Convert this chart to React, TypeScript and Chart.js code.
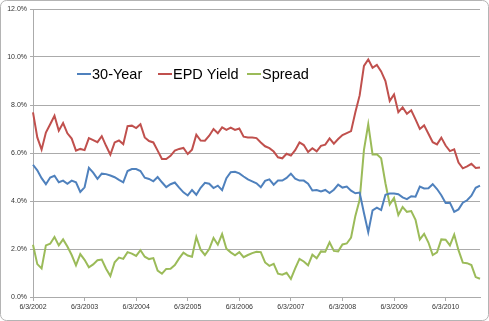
import React, { useEffect, useRef } from 'react';
import { Chart, registerables } from 'chart.js';
Chart.register(...registerables);

// Monthly observations, 6/3/2002 .. 2/3/2011
const startYear = 2002;
const startMonth = 6;
const pointCount = 105;
const categories: string[] = [];
for (let i = 0; i < pointCount; i++) {
  const m = ((startMonth - 1 + i) % 12) + 1;
  const y = startYear + Math.floor((startMonth - 1 + i) / 12);
  categories.push(`${m}/3/${y}`);
}

const tickLabels = ['6/3/2002', '6/3/2003', '6/3/2004', '6/3/2005', '6/3/2006', '6/3/2007', '6/3/2008', '6/3/2009', '6/3/2010'];

const thirtyYear = [
  5.51, 5.28, 4.95, 4.70, 4.98, 5.05, 4.78, 4.85, 4.72, 4.85, 4.78, 4.38, 4.57, 5.38, 5.18, 4.92,
  5.14, 5.12, 5.06, 4.99, 4.88, 4.78, 5.25, 5.33, 5.33, 5.25, 4.97, 4.92, 4.82, 5.00, 4.78, 4.58,
  4.70, 4.77, 4.56, 4.36, 4.23, 4.46, 4.26, 4.55, 4.76, 4.72, 4.54, 4.64, 4.45, 4.95, 5.20, 5.22,
  5.15, 5.02, 4.90, 4.82, 4.74, 4.57, 4.84, 4.90, 4.68, 4.85, 4.85, 4.96, 5.14, 4.93, 4.85, 4.85,
  4.72, 4.44, 4.46, 4.40, 4.46, 4.33, 4.47, 4.68, 4.56, 4.60, 4.43, 4.32, 4.35, 3.50, 2.70, 3.61,
  3.72, 3.62, 4.26, 4.31, 4.31, 4.28, 4.15, 4.08, 4.20, 4.18, 4.60, 4.52, 4.53, 4.70, 4.50, 4.24,
  3.92, 3.93, 3.55, 3.65, 3.93, 4.03, 4.22, 4.55, 4.64,
];

const epdYield = [
  7.69, 6.65, 6.14, 6.85, 7.20, 7.55, 6.93, 7.25, 6.82, 6.60, 6.10, 6.17, 6.12, 6.62, 6.54, 6.45,
  6.70, 6.30, 5.93, 6.44, 6.52, 6.37, 7.12, 7.14, 7.04, 7.20, 6.65, 6.50, 6.44, 6.10, 5.75, 5.75,
  5.88, 6.10, 6.17, 6.21, 5.96, 6.14, 6.76, 6.52, 6.51, 6.72, 7.00, 6.82, 7.07, 6.96, 7.06, 6.96,
  7.02, 6.68, 6.65, 6.65, 6.62, 6.44, 6.28, 6.20, 6.06, 5.82, 5.78, 5.97, 5.89, 6.12, 6.44, 6.33,
  6.04, 6.20, 6.07, 6.30, 6.35, 6.61, 6.39, 6.58, 6.75, 6.83, 6.91, 7.70, 8.40, 9.63, 9.90, 9.55,
  9.67, 9.40, 9.00, 8.17, 8.44, 7.70, 7.90, 7.63, 7.78, 7.40, 7.00, 7.15, 6.80, 6.45, 6.36, 6.64,
  6.31, 6.08, 6.15, 5.60, 5.36, 5.44, 5.55, 5.38, 5.40,
];

const spread = [
  2.18, 1.37, 1.19, 2.15, 2.22, 2.50, 2.15, 2.40, 2.10, 1.75, 1.32, 1.79, 1.55, 1.24, 1.36, 1.53,
  1.56, 1.18, 0.87, 1.45, 1.64, 1.59, 1.87, 1.81, 1.71, 1.95, 1.68, 1.58, 1.62, 1.10, 0.97, 1.17,
  1.18, 1.33, 1.61, 1.85, 1.73, 1.68, 2.50, 1.97, 1.75, 2.00, 2.46, 2.18, 2.62, 2.01, 1.86, 1.74,
  1.87, 1.66, 1.75, 1.83, 1.88, 1.87, 1.44, 1.30, 1.38, 0.97, 0.93, 1.01, 0.75, 1.19, 1.59, 1.48,
  1.32, 1.76, 1.61, 1.90, 1.89, 2.28, 1.92, 1.90, 2.19, 2.23, 2.48, 3.38, 4.05, 6.13, 7.20, 5.94,
  5.95, 5.78, 4.74, 3.86, 4.13, 3.42, 3.75, 3.55, 3.58, 3.22, 2.40, 2.63, 2.27, 1.75, 1.86, 2.40,
  2.39, 2.15, 2.60, 1.95, 1.43, 1.41, 1.33, 0.83, 0.76,
];

const seriesNames = ['30-Year', 'EPD Yield', 'Spread'];
const seriesColors = ['#4F81BD', '#C0504D', '#9BBB59'];

const W = 489;
const H = 321;
const GRID = '#ababab';

export default function App() {
  const ref = useRef<HTMLCanvasElement | null>(null);

  useEffect(() => {
    document.body.style.margin = '0';
    const canvas = ref.current;
    if (!canvas) return;

    const frame = {
      id: 'frame',
      beforeDraw(chart: any) {
        const ctx = chart.ctx;
        ctx.save();
        ctx.fillStyle = '#ffffff';
        ctx.fillRect(0, 0, W, H);
        ctx.strokeStyle = '#b4b4b4';
        ctx.lineWidth = 1;
        ctx.beginPath();
        (ctx as any).roundRect(0.5, 0.5, W - 1, H - 1, 6);
        ctx.stroke();
        ctx.restore();
      },
    };

    const legendPos = [
      { line: 77, text: 92 },
      { line: 158, text: 173 },
      { line: 247, text: 262 },
    ];
    const customLegend = {
      id: 'customLegend',
      afterDraw(chart: any) {
        const ctx = chart.ctx;
        ctx.save();
        ctx.font = '14.5px "Liberation Sans", Arial, sans-serif';
        ctx.textBaseline = 'middle';
        ctx.textAlign = 'left';
        seriesNames.forEach((name, i) => {
          const p = legendPos[i];
          ctx.strokeStyle = seriesColors[i];
          ctx.lineWidth = 2;
          ctx.beginPath();
          ctx.moveTo(p.line, 74);
          ctx.lineTo(p.line + 14, 74);
          ctx.stroke();
          ctx.fillStyle = '#000000';
          ctx.fillText(name, p.text, 75);
        });
        ctx.restore();
      },
    };

    const mk = (label: string, data: number[], color: string) => ({
      label,
      data,
      borderColor: color,
      backgroundColor: color,
      borderWidth: 2,
      pointRadius: 0,
      tension: 0,
      fill: false,
    });

    const chart = new Chart(canvas, {
      type: 'line',
      data: {
        labels: categories,
        datasets: [
          mk(seriesNames[0], thirtyYear, seriesColors[0]),
          mk(seriesNames[1], epdYield, seriesColors[1]),
          mk(seriesNames[2], spread, seriesColors[2]),
        ],
      },
      options: {
        animation: false,
        responsive: false,
        devicePixelRatio: 1,
        layout: { padding: { top: 9, right: 9, left: 0, bottom: 0 } },
        plugins: { legend: { display: false }, tooltip: { enabled: false } },
        scales: {
          x: {
            type: 'category',
            offset: false,
            afterFit: (s: any) => { s.height = 24; },
            grid: {
              drawOnChartArea: false,
              drawTicks: true,
              tickLength: 4,
              color: (c: any) => (c.index % 12 === 0 ? GRID : 'rgba(0,0,0,0)'),
            },
            border: { color: GRID },
            ticks: {
              autoSkip: false,
              maxRotation: 0,
              minRotation: 0,
              padding: 2,
              color: '#333333',
              font: { family: '"Liberation Sans", Arial, sans-serif', size: 7 },
              callback: (_v: any, idx: number) => (idx % 12 === 0 ? tickLabels[idx / 12] : ''),
            },
          },
          y: {
            min: 0,
            max: 12,
            afterFit: (s: any) => { s.width = 33; },
            grid: { color: GRID, tickLength: 3, drawTicks: true },
            border: { color: GRID },
            ticks: {
              stepSize: 2,
              padding: 3,
              color: '#333333',
              font: { family: '"Liberation Sans", Arial, sans-serif', size: 7 },
              callback: (v: any) => Number(v).toFixed(1) + '%',
            },
          },
        },
      },
      plugins: [frame, customLegend],
    });

    return () => chart.destroy();
  }, []);

  return (
    <div style={{ width: W, height: H }}>
      <canvas ref={ref} width={W} height={H} style={{ display: 'block', width: W, height: H }} />
    </div>
  );
}
